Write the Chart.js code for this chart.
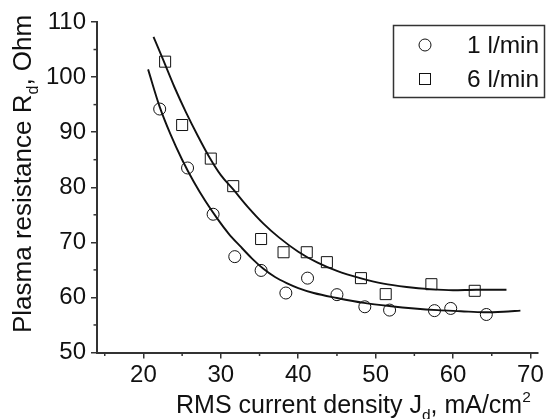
<!DOCTYPE html>
<html><head><meta charset="utf-8">
<script src="https://cdn.jsdelivr.net/npm/chart.js@4.4.0/dist/chart.umd.min.js"></script>
<style>html,body{margin:0;padding:0;background:#fff}canvas{display:block}</style>
</head><body>
<canvas id="c" width="547" height="419"></canvas>
<script>
// ---- data ----
const xTicks = [20, 30, 40, 50, 60, 70];
const xMinorTicks = [15, 25, 35, 45, 55, 65];
const yTicks = [50, 60, 70, 80, 90, 100, 110];
const yMinorTicks = [55, 65, 75, 85, 95, 105];

const seriesNames = ['1 l/min', '6 l/min'];

const flow1X = [22.1, 25.7, 29.0, 31.8, 35.2, 38.4, 41.2, 45.0, 48.6, 51.8, 57.6, 59.7, 64.3];
const flow1Y = [94.2, 83.5, 75.1, 67.4, 64.9, 60.8, 63.5, 60.5, 58.3, 57.7, 57.6, 58.0, 56.9];

const flow6X = [22.8, 25.0, 28.7, 31.6, 35.2, 38.1, 41.1, 43.7, 48.1, 51.3, 57.2, 62.8];
const flow6Y = [102.8, 91.3, 85.2, 80.2, 70.6, 68.2, 68.2, 66.4, 63.5, 60.6, 62.4, 61.2];

// fitted curves
const fit1X = [20.6, 22.1, 23.5, 25.0, 26.5, 28.0, 29.5, 31.0, 32.5, 34.0, 35.5, 37.0, 38.5, 40.0, 42.0, 45.0, 48.5, 52.0, 55.0, 58.0, 61.0, 64.0, 66.5, 68.7];
const fit1Y = [101.4, 94.6, 89.6, 85.0, 81.0, 77.5, 74.4, 71.6, 69.3, 67.1, 65.2, 63.7, 62.6, 61.7, 60.8, 59.9, 59.0, 58.4, 58.0, 57.7, 57.5, 57.3, 57.4, 57.6];

const fit6X = [21.3, 22.5, 24.0, 25.5, 27.0, 28.5, 30.0, 31.6, 33.5, 35.5, 37.5, 40.0, 42.5, 45.0, 48.0, 51.0, 54.0, 57.0, 60.0, 63.0, 66.9];
const fit6Y = [107.3, 103.3, 98.2, 93.6, 89.4, 85.5, 82.2, 79.6, 76.4, 73.4, 70.9, 68.3, 66.3, 64.8, 63.5, 62.5, 61.9, 61.5, 61.3, 61.4, 61.4];

const xTitle = ['RMS current density J', 'd', ', mA/cm', '2'];
const yTitle = ['Plasma resistance R', 'd', ', Ohm'];

// ---- helpers ----
const zip = (xs, ys) => xs.map((x, i) => ({ x: x, y: ys[i] }));
const FONT = '"Liberation Sans", Arial, sans-serif';
const AXIS = '#333';
const INK = '#111';

function drawRich(ctx, parts, x, y, size) {
  let cx = x;
  parts.forEach((t, i) => {
    let s = size, dy = 0;
    if (i === 1) { s = size * 0.62; dy = size * 0.28; }
    if (i === 3) { s = size * 0.62; dy = -size * 0.45; }
    ctx.font = s + 'px ' + FONT;
    ctx.fillText(t, cx, y + dy);
    cx += ctx.measureText(t).width;
  });
}

const decorPlugin = {
  id: 'decor',
  afterDraw(chart) {
    const ctx = chart.ctx;
    const xs = chart.scales.x, ys = chart.scales.y;
    ctx.save();
    // minor ticks
    ctx.strokeStyle = AXIS;
    ctx.lineWidth = 1.5;
    xMinorTicks.forEach(v => {
      const p = xs.getPixelForValue(v);
      ctx.beginPath(); ctx.moveTo(p, ys.bottom); ctx.lineTo(p, ys.bottom + 3.5); ctx.stroke();
    });
    yMinorTicks.forEach(v => {
      const p = ys.getPixelForValue(v);
      ctx.beginPath(); ctx.moveTo(xs.left, p); ctx.lineTo(xs.left - 3.5, p); ctx.stroke();
    });
    // axis titles
    ctx.fillStyle = INK;
    ctx.textBaseline = 'alphabetic';
    ctx.textAlign = 'left';
    drawRich(ctx, xTitle, 176, 413, 25);
    ctx.save();
    ctx.translate(31, 333);
    ctx.rotate(-Math.PI / 2);
    drawRich(ctx, yTitle, 0, 0, 26);
    ctx.restore();
    // legend box
    ctx.strokeStyle = AXIS;
    ctx.lineWidth = 1.5;
    ctx.strokeRect(393.5, 25.5, 151, 72);
    ctx.strokeStyle = INK;
    ctx.lineWidth = 1;
    ctx.beginPath(); ctx.arc(425, 45, 6, 0, Math.PI * 2); ctx.stroke();
    ctx.strokeRect(419.5, 73.5, 11, 11);
    ctx.font = '24.5px ' + FONT;
    ctx.textBaseline = 'middle';
    ctx.fillText(seriesNames[0], 467, 46);
    ctx.fillText(seriesNames[1], 467, 80);
    ctx.restore();
  }
};

const tickFont = { family: FONT, size: 24 };

new Chart(document.getElementById('c'), {
  data: {
    datasets: [
      { type: 'line', label: 'fit1', data: zip(fit1X, fit1Y), borderColor: INK, borderWidth: 1.9,
        pointRadius: 0, fill: false, cubicInterpolationMode: 'monotone' },
      { type: 'line', label: 'fit6', data: zip(fit6X, fit6Y), borderColor: INK, borderWidth: 1.9,
        pointRadius: 0, fill: false, cubicInterpolationMode: 'monotone' },
      { type: 'scatter', label: seriesNames[0], data: zip(flow1X, flow1Y), pointStyle: 'circle',
        pointRadius: 6, borderColor: INK, borderWidth: 1, backgroundColor: 'rgba(0,0,0,0)' },
      { type: 'scatter', label: seriesNames[1], data: zip(flow6X, flow6Y), pointStyle: 'rect',
        pointRadius: 7.8, borderColor: INK, borderWidth: 1, backgroundColor: 'rgba(0,0,0,0)' }
    ]
  },
  options: {
    responsive: false,
    animation: false,
    devicePixelRatio: 1,
    layout: { padding: { left: 0, top: 22, right: 7, bottom: 0 } },
    plugins: { legend: { display: false }, tooltip: { enabled: false } },
    scales: {
      x: {
        type: 'linear', position: 'bottom', min: 14, max: 71,
        afterBuildTicks: s => { s.ticks = xTicks.map(v => ({ value: v })); },
        afterFit: s => { s.height = 66.5; },
        border: { display: true, color: AXIS, width: 2 },
        grid: { display: true, drawOnChartArea: false, drawTicks: true, tickLength: 6, color: AXIS, lineWidth: 1.5 },
        ticks: { font: tickFont, color: INK, padding: 2, maxRotation: 0, autoSkip: false }
      },
      y: {
        type: 'linear', position: 'left', min: 50, max: 110,
        afterBuildTicks: s => { s.ticks = yTicks.map(v => ({ value: v })); },
        afterFit: s => { s.width = 97; },
        border: { display: true, color: AXIS, width: 2 },
        grid: { display: true, drawOnChartArea: false, drawTicks: true, tickLength: 6, color: AXIS, lineWidth: 1.5 },
        ticks: { font: tickFont, color: INK, padding: 5, autoSkip: false }
      }
    }
  },
  plugins: [decorPlugin]
});
</script></body></html>
